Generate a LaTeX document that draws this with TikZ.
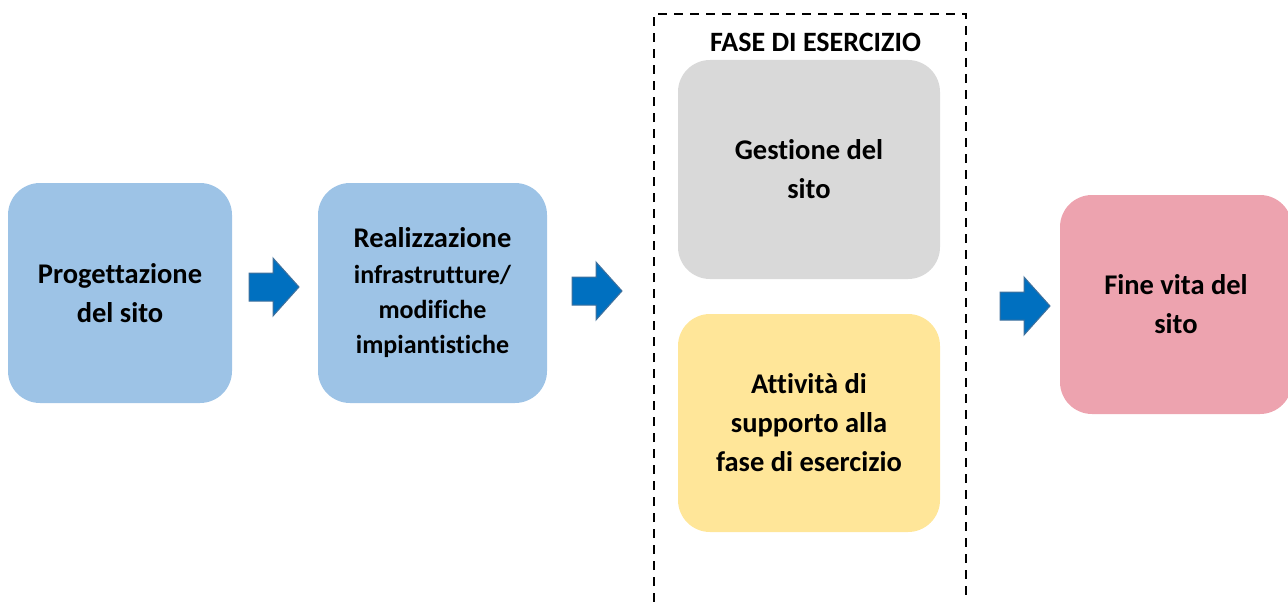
\documentclass[tikz,border=0pt]{standalone}
\usepackage{fontspec}
\setmainfont{Carlito}[Ligatures=NoCommon]
\definecolor{boxblue}{HTML}{9DC3E6}
\definecolor{boxgray}{HTML}{D9D9D9}
\definecolor{boxyellow}{HTML}{FFE699}
\definecolor{boxpink}{HTML}{EDA3AF}
\definecolor{arrowblue}{HTML}{0070C0}
\definecolor{arrowedge}{HTML}{41719C}
\tikzset{
  phase/.style={rectangle, rounded corners=32pt, draw=none, inner sep=0pt,
    align=center, font=\bfseries\fontsize{28.5}{39}\selectfont},
  blockarr/.pic={\draw[fill=arrowblue, draw=arrowedge, line width=1pt, line join=miter]
      (0,-14) -- (24,-14) -- (24,-29) -- (50,0) -- (24,29) -- (24,14) -- (0,14) -- cycle;},
  framebox/.style={draw=black, line width=2.8pt, dash pattern=on 9pt off 7pt}
}
\newcommand{\smallline}{\fontsize{26}{34}\selectfont}
\begin{document}
\begin{tikzpicture}[x=1pt,y=-1pt]
\useasboundingbox (0,0) rectangle (1288,602);
% phase boxes
\node[phase, fill=boxblue, minimum width=224pt, minimum height=220pt] (prog) at (120,293)
  {Progettazione\\del sito};
\node[phase, fill=boxblue, minimum width=229pt, minimum height=220pt] (real) at (432.5,293)
  {Realizzazione\\[-3pt]{\smallline infrastrutture/}\\[-4pt]{\smallline modifiche}\\[-4pt]{\smallline impiantistiche}};
\node[phase, fill=boxgray, minimum width=262pt, minimum height=219pt] (gest) at (809,169.5)
  {Gestione del\\sito};
\node[phase, fill=boxyellow, minimum width=262pt, minimum height=218pt] (supp) at (809,423)
  {Attività di\\supporto alla\\fase di esercizio};
\node[phase, fill=boxpink, minimum width=232pt, minimum height=219pt] (fine) at (1176,304.5)
  {Fine vita del\\sito};
% dashed frame (open at bottom)
\coordinate (fbl) at (654,602);
\coordinate (ftl) at (654,14);
\coordinate (ftr) at (966,14);
\coordinate (fbr) at (966,602);
\draw[framebox] (fbl) -- (ftl) -- (ftr) -- (fbr);
\node[font=\bfseries\fontsize{28}{30}\selectfont, inner sep=0pt] (fase) at (815.5,42) {FASE DI ESERCIZIO};
% block arrows
\coordinate (a1) at (249,287);
\coordinate (a2) at (572,291);
\coordinate (a3) at (1000,306);
\pic at (a1) {blockarr};
\pic at (a2) {blockarr};
\pic at (a3) {blockarr};
\end{tikzpicture}
\end{document}
